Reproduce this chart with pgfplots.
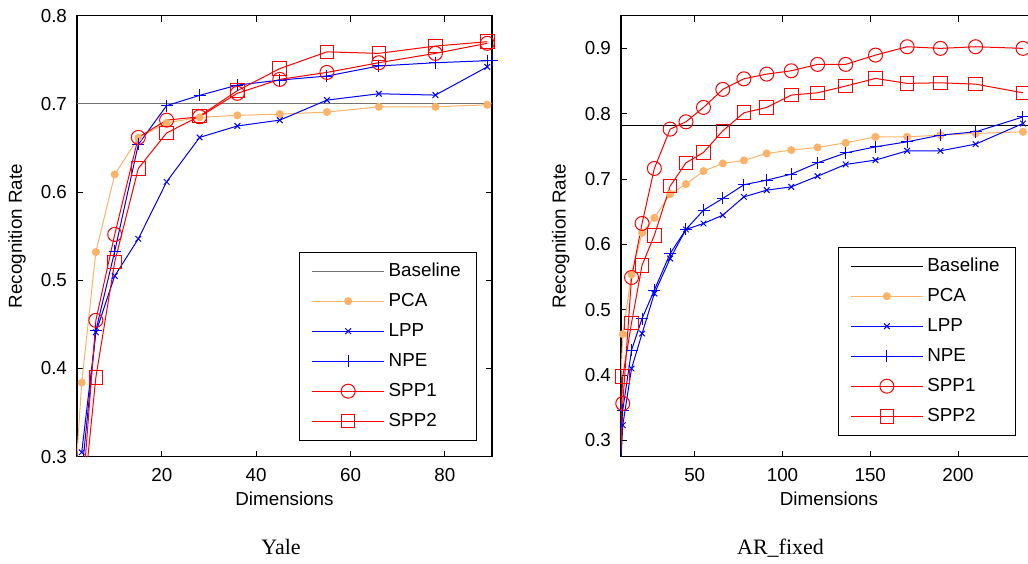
\documentclass[border=0pt]{standalone}
\usepackage{pgfplots}
\pgfplotsset{compat=1.18}
\usepackage{fontspec}
\setmainfont{Liberation Sans}
\newfontfamily\timesfont{Liberation Serif}
\definecolor{pcaor}{RGB}{252,178,105}
\definecolor{baseg}{RGB}{115,115,115}
\newcommand\fs{\fontsize{9.4}{11}\selectfont}
\pgfplotsset{
  myax/.style={
    scale only axis, height=220.5pt,
    tick align=inside, major tick length=3pt,
    /pgf/number format/assume math mode=true,
    tick label style={font=\fs},
    xticklabel shift=2.5pt,
    yticklabel shift=1.5pt,
    label style={font=\fs},
    every axis plot/.append style={line width=0.5pt},
    axis line style={line width=0.6pt},
    every tick/.style={black, line width=0.5pt},
    xlabel={Dimensions}, ylabel={Recognition Rate},
    xlabel style={at={(axis description cs:0.5,-0.095)}, anchor=center},
    ylabel style={at={(axis description cs:-0.1446,0.5)}, anchor=center},
    yticklabel style={/pgf/number format/fixed, /pgf/number format/precision=1, /pgf/number format/fixed zerofill},
    legend cell align=left,
    legend image code/.code={\draw[mark repeat=2,mark phase=2,##1] plot coordinates {(0pt,0pt) (18pt,0pt) (36pt,0pt)};},
    legend style={font=\fs, draw=black, line width=0.5pt, inner xsep=6pt, inner ysep=3.2pt, row sep=2.4pt,
      nodes={inner sep=2pt, text height=6.8pt, text depth=1.8pt},
      /tikz/every even column/.append style={column sep=1.15pt}},
  },
  pca/.style={color=pcaor, mark=*, mark size=1.75pt},
  lpp/.style={color=blue, mark=x, mark size=2pt},
  npe/.style={color=blue, mark=+, mark size=3pt},
  spp1/.style={color=red, mark=o, mark size=3.5pt},
  spp2/.style={color=red, mark=square, mark size=3.4pt},
}
\begin{document}
\begin{tikzpicture}
\begin{axis}[myax, width=207.5pt, at={(0pt,0pt)}, anchor=south west,
  xmin=2, xmax=90, ymin=0.3, ymax=0.8,
  xtick={20,40,60,80}, ytick={0.3,0.4,0.5,0.6,0.7,0.8},
  legend style={at={(axis description cs:0.9646,0.0363)}, anchor=south east}]
\addplot[color=baseg, no marks] coordinates {(2,0.7) (90,0.7)};
\addlegendentry{Baseline}
\addplot[pca] coordinates {(1,0.22) (3,0.384) (6,0.532) (10,0.620) (15,0.6615) (21,0.6785) (28,0.6847) (36,0.687) (45,0.6884) (55,0.6907) (66,0.6967) (78,0.6967) (89,0.699)};
\addlegendentry{PCA}
\addplot[lpp] coordinates {(3,0.305) (6,0.441) (10,0.505) (15,0.547) (21,0.6116) (28,0.662) (36,0.675) (45,0.6816) (55,0.7043) (66,0.7115) (78,0.710) (89,0.742)};
\addlegendentry{LPP}
\addplot[npe] coordinates {(1,0.12) (3,0.28) (6,0.443) (10,0.533) (15,0.654) (21,0.698) (28,0.7097) (36,0.7213) (45,0.727) (55,0.7316) (66,0.743) (78,0.7467) (89,0.749) (90,0.749)};
\addlegendentry{NPE}
\addplot[spp1] coordinates {(1,0.1) (3,0.244) (6,0.4546) (10,0.552) (15,0.662) (21,0.6816) (28,0.6854) (36,0.712) (45,0.7278) (55,0.7357) (66,0.7467) (78,0.7573) (89,0.7687)};
\addlegendentry{SPP1}
\addplot[spp2] coordinates {(1,0.1) (3,0.23) (6,0.390) (10,0.5208) (15,0.6268) (21,0.667) (28,0.6862) (36,0.715) (45,0.740) (55,0.759) (66,0.7573) (78,0.7656) (89,0.7705)};
\addlegendentry{SPP2}
\end{axis}
\begin{axis}[myax, width=208pt, at={(272pt,0pt)}, anchor=south west,
  xmin=8, xmax=245, ymin=0.275, ymax=0.95,
  xtick={50,100,150,200}, ytick={0.3,0.4,0.5,0.6,0.7,0.8,0.9},
  legend style={at={(axis description cs:0.9495,0.0476)}, anchor=south east}]
\addplot[color=black, no marks] coordinates {(8,0.782) (245,0.782)};
\addlegendentry{Baseline}
\addplot[pca] coordinates {(5,0.2) (9,0.4625) (14,0.5539) (20,0.6176) (27,0.6406) (36,0.6769) (45,0.6922) (55,0.7121) (66,0.7239) (78,0.7285) (91,0.7392) (105,0.7443) (120,0.7484) (136,0.7554) (153,0.7646) (171,0.7646) (190,0.7672) (210,0.7698) (237,0.7723)};
\addlegendentry{PCA}
\addplot[lpp] coordinates {(5,0.12) (9,0.3231) (14,0.41) (20,0.4636) (27,0.5248) (36,0.5784) (45,0.6228) (55,0.632) (66,0.6447) (78,0.6727) (91,0.683) (105,0.688) (120,0.7044) (136,0.7224) (153,0.729) (171,0.7432) (190,0.7432) (210,0.7534) (237,0.785)};
\addlegendentry{LPP}
\addplot[npe] coordinates {(5,0.12) (9,0.3464) (14,0.438) (20,0.4865) (27,0.530) (36,0.586) (45,0.6228) (55,0.6524) (66,0.6703) (78,0.6912) (91,0.6983) (105,0.7075) (120,0.7248) (136,0.740) (153,0.7493) (171,0.757) (190,0.7672) (210,0.7723) (237,0.795)};
\addlegendentry{NPE}
\addplot[spp1] coordinates {(5,0.1) (9,0.3564) (14,0.5493) (20,0.632) (27,0.7162) (36,0.7764) (45,0.7876) (55,0.8096) (66,0.8372) (78,0.8534) (91,0.8606) (105,0.8657) (120,0.8755) (136,0.8755) (153,0.8897) (171,0.9025) (190,0.900) (210,0.9025) (237,0.900)};
\addlegendentry{SPP1}
\addplot[spp2] coordinates {(5,0.15) (9,0.398) (14,0.4798) (20,0.568) (27,0.614) (36,0.6891) (45,0.7248) (55,0.7407) (66,0.7738) (78,0.8014) (91,0.8096) (105,0.8285) (120,0.832) (136,0.8423) (153,0.854) (171,0.8464) (190,0.8473) (210,0.8453) (237,0.832)};
\addlegendentry{SPP2}
\end{axis}
\node[anchor=base, font=\timesfont\fontsize{11}{13}\selectfont] at (102pt,-49pt) {Yale};
\node[anchor=base, font=\timesfont\fontsize{11}{13}\selectfont] at (351.75pt,-49pt) {AR\_fixed};
\pgfresetboundingbox
\path[use as bounding box] (-38.5pt,-53.15pt) rectangle (475.5pt,228.35pt);
\end{tikzpicture}
\end{document}
